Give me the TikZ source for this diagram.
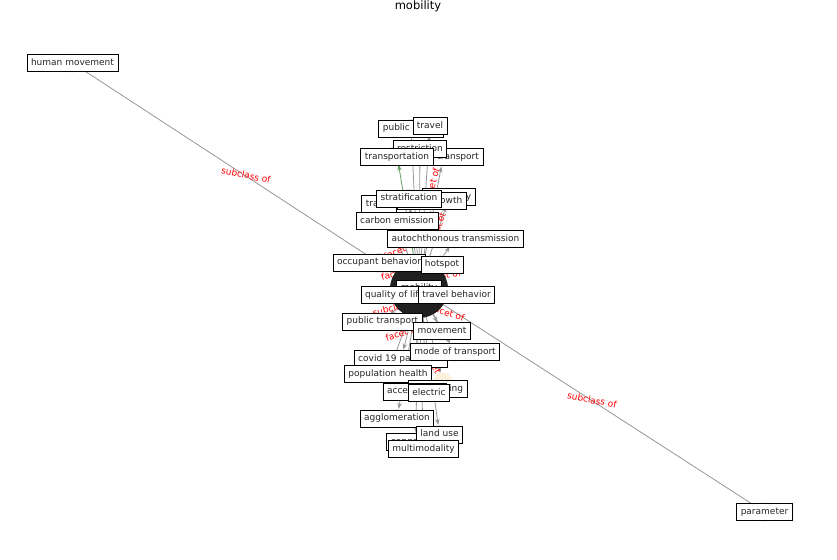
\documentclass[tikz,border=0pt]{standalone}
\usepackage{fontspec}
\setmainfont{DejaVu Sans}
\usetikzlibrary{arrows.meta,backgrounds}
\definecolor{lav}{RGB}{226,224,242}
\definecolor{edgegray}{RGB}{150,150,150}
\definecolor{lgreen}{RGB}{178,220,178}
\definecolor{dgreen}{RGB}{100,160,100}
\definecolor{lyellow}{RGB}{252,242,220}
\definecolor{hubc}{RGB}{32,32,32}
\tikzset{
  lbl/.style={draw=black, fill=white, line width=0.8pt, font=\fontsize{9}{10}\selectfont,
    inner xsep=4pt, inner ysep=0pt, minimum height=17pt, text height=6.8pt, text depth=2pt, text=black!85},
  nd/.style={circle, fill=lav, draw=none, minimum size=19pt, inner sep=0pt},
  hub/.style={circle, fill=hubc, draw=none, minimum size=58pt, inner sep=0pt},
  edg/.style={draw=edgegray, line width=0.8pt, -{Stealth[length=6pt,width=4.5pt]}},
  plainedge/.style={draw=edgegray, line width=0.8pt},
  elab/.style={text=red, font=\fontsize{9}{10}\selectfont, inner sep=0pt},
}
\begin{document}
\begin{tikzpicture}[x=1pt,y=-1pt]
\useasboundingbox (0,0) rectangle (837,559);
\node[font=\fontsize{11.5}{12}\selectfont] (title) at (418,6) {mobility};
% node circles
\node[nd] (hm) at (72.5,63) {};
\node[nd] (par) at (764.5,512) {};
\node[nd] (pubsp) at (411,128.5) {};
\node[nd] (travel) at (430,126) {};
\node[nd] (restr) at (420,149) {};
\node[nd] (actr) at (443,157) {};
\node[nd, fill=lgreen] (transp) at (397,155) {};
\node[nd] (traffic) at (379,204) {};
\node[nd] (ineq) at (449,197) {};
\node[nd] (urban) at (432,201) {};
\node[nd] (strat) at (409,198.5) {};
\node[nd] (carbon) at (397,221) {};
\node[nd] (auto) at (455.5,239) {};
\node[nd] (occ) at (379,262.5) {};
\node[nd] (hot) at (442,264.5) {};
\node[nd] (qol) at (394.5,295) {};
\node[nd] (tb) at (456.5,295) {};
\node[nd] (pt) at (382.5,321.5) {};
\node[nd] (mov) at (442,331) {};
\node[nd] (mot) at (455,352) {};
\node[nd] (covid) at (401,359) {};
\node[nd] (pop) at (388,374) {};
\node[nd, fill=lyellow] (cars) at (443,382) {};
\node[nd] (acc) at (414.5,391.5) {};
\node[nd] (elec) at (429,393) {};
\node[nd] (agg) at (397,418.5) {};
\node[nd] (cong) at (415.5,442) {};
\node[nd] (land) at (439.5,434.5) {};
\node[nd] (multi) at (423.5,449) {};
\node[hub] (mob) at (419,289) {};
% edges and edge labels
\begin{scope}[on background layer]
\draw[plainedge] (hm) -- (mob);
\draw[plainedge] (mob) -- (par);
\foreach \t in {pubsp,travel,restr,actr,traffic,ineq,urban,strat,carbon,auto,occ,hot,qol,tb,pt,mov,mot,covid,pop,cars,acc,elec,agg,cong,land,multi}
  \draw[edg] (mob) -- (\t);
\draw[edg, draw=dgreen] (mob) -- (transp);
\node[elab, rotate=-12] (e1) at (246,175) {subclass of};
\node[elab, rotate=-11] (e2) at (592,400) {subclass of};
\node[elab, rotate=75] (e3) at (432,185) {facet of};
\node[elab, rotate=70] (e4) at (441,218) {facet of};
\node[elab, rotate=25] (e5) at (400,250) {facet of};
\node[elab, rotate=14] (e6) at (398,273) {facet of};
\node[elab, rotate=12] (e7) at (444,276) {facet of};
\node[elab, rotate=14] (e8) at (397,307) {subclass of};
\node[elab, rotate=-18] (e9) at (448,313) {facet of};
\node[elab, rotate=18] (e10) at (402,333) {facet of};
\node[elab, rotate=-65] (e11) at (436,368) {facet of};
\end{scope}
% labels
\node[lbl] (hm-l) at (hm) {human movement};
\node[lbl] (par-l) at (par) {parameter};
\node[lbl] (pubsp-l) at (pubsp) {public space};
\node[lbl] (travel-l) at (travel) {travel};
\node[lbl] (actr-l) at (actr) {active transport};
\node[lbl] (restr-l) at (restr) {restriction};
\node[lbl] (transp-l) at (397,157) {transportation};
\node[lbl] (ineq-l) at (ineq) {inequality};
\node[lbl] (traffic-l) at (traffic) {traffic};
\node[lbl] (urban-l) at (urban) {urban growth};
\node[lbl] (strat-l) at (strat) {stratification};
\node[lbl] (carbon-l) at (carbon) {carbon emission};
\node[lbl] (auto-l) at (auto) {autochthonous transmission};
\node[lbl] (occ-l) at (occ) {occupant behavior};
\node[lbl] (hot-l) at (hot) {hotspot};
\node[lbl] (mob-l) at (419,288.5) {mobility};
\node[lbl] (qol-l) at (qol) {quality of life};
\node[lbl] (tb-l) at (tb) {travel behavior};
\node[lbl] (pt-l) at (pt) {public transport};
\node[lbl] (mov-l) at (mov) {movement};
\node[lbl] (covid-l) at (covid) {covid 19 pandemic};
\node[lbl] (mot-l) at (mot) {mode of transport};
\node[lbl] (pop-l) at (pop) {population health};
\node[lbl] (cars-l) at (437.7,389) {car sharing};
\node[lbl] (acc-l) at (acc) {accessibility};
\node[lbl] (elec-l) at (elec) {electric};
\node[lbl] (agg-l) at (agg) {agglomeration};
\node[lbl] (cong-l) at (cong) {congestion};
\node[lbl] (land-l) at (land) {land use};
\node[lbl] (multi-l) at (multi) {multimodality};
\end{tikzpicture}
\end{document}
